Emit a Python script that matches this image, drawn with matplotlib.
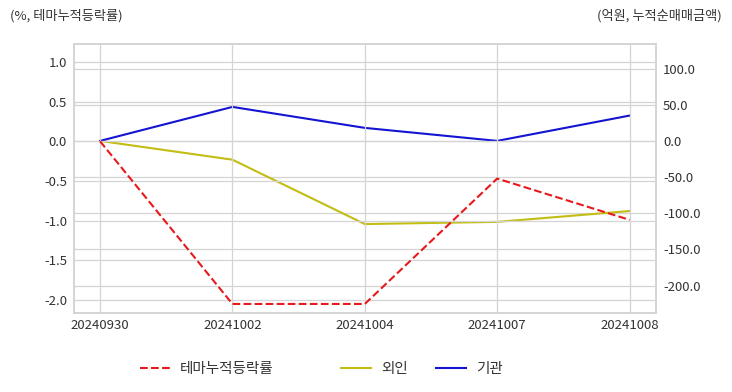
import matplotlib.pyplot as plt

plt.rcParams['font.family'] = ['Noto Sans CJK KR', 'DejaVu Sans']

dates = ['20240930', '20241002', '20241004', '20241007', '20241008']
theme_rate = [0.0, -2.05, -2.05, -0.47, -0.99]
foreign = [0.0, -26.0, -115.0, -112.0, -97.0]
institution = [0.0, 47.0, 18.0, 0.0, 35.0]

fig = plt.figure(figsize=(7.32, 3.92), dpi=100)
ax = fig.add_axes([74 / 732, 1 - 313 / 392, (656 - 74) / 732, (313 - 44) / 392])
ax2 = ax.twinx()

x = list(range(len(dates)))
l1, = ax.plot(x, theme_rate, color='#e8191c', linestyle='--', linewidth=1.5, label='테마누적등락률')
l2, = ax2.plot(x, foreign, color='#c2bd12', linewidth=1.5, label='외인')
l3, = ax2.plot(x, institution, color='#1414d2', linewidth=1.5, label='기관')

ax.set_xlim(-0.197, 4.2)
ax.set_ylim(-2.164, 1.226)
ax2.set_ylim(-238, 134)
ax.set_yticks([1.0, 0.5, 0.0, -0.5, -1.0, -1.5, -2.0])
ax.set_yticklabels([f'{v:.1f}' for v in [1.0, 0.5, 0.0, -0.5, -1.0, -1.5, -2.0]])
ax2.set_yticks([100, 50, 0, -50, -100, -150, -200])
ax2.set_yticklabels([f'{v:.1f}' for v in [100, 50, 0, -50, -100, -150, -200]])
ax.set_xticks(x)
ax.set_xticklabels(dates)

grid_c = '#d4d4d4'
for a in (ax, ax2):
    for s in a.spines.values():
        s.set_color(grid_c)
        s.set_linewidth(1.2)
    a.tick_params(length=0, labelsize=9.5, colors='#333333', pad=5)
ax.grid(True, color=grid_c, linewidth=0.9)
ax2.grid(True, axis='y', color=grid_c, linewidth=0.9)
ax.set_zorder(ax2.get_zorder() + 1)
ax.patch.set_visible(False)
ax.tick_params(axis='x', pad=4)

fig.text(10 / 732, 1 - 16 / 392, '(%, 테마누적등락률)', fontsize=9.5, color='#333333', va='center', ha='left')
fig.text(722 / 732, 1 - 16 / 392, '(억원, 누적순매매금액)', fontsize=9.5, color='#333333', va='center', ha='right')

# three legend entries placed individually to match spacing
for line, xs in ((l1, 140), (l2, 341), (l3, 436)):
    leg = fig.legend(handles=[line], loc='center left', bbox_to_anchor=(xs / 732, 1 - 369 / 392),
                     frameon=False, fontsize=10.5, handlelength=2.05, handletextpad=0.7,
                     borderpad=0, borderaxespad=0, labelcolor='#333333')

fig.savefig('out.png', dpi=100)
